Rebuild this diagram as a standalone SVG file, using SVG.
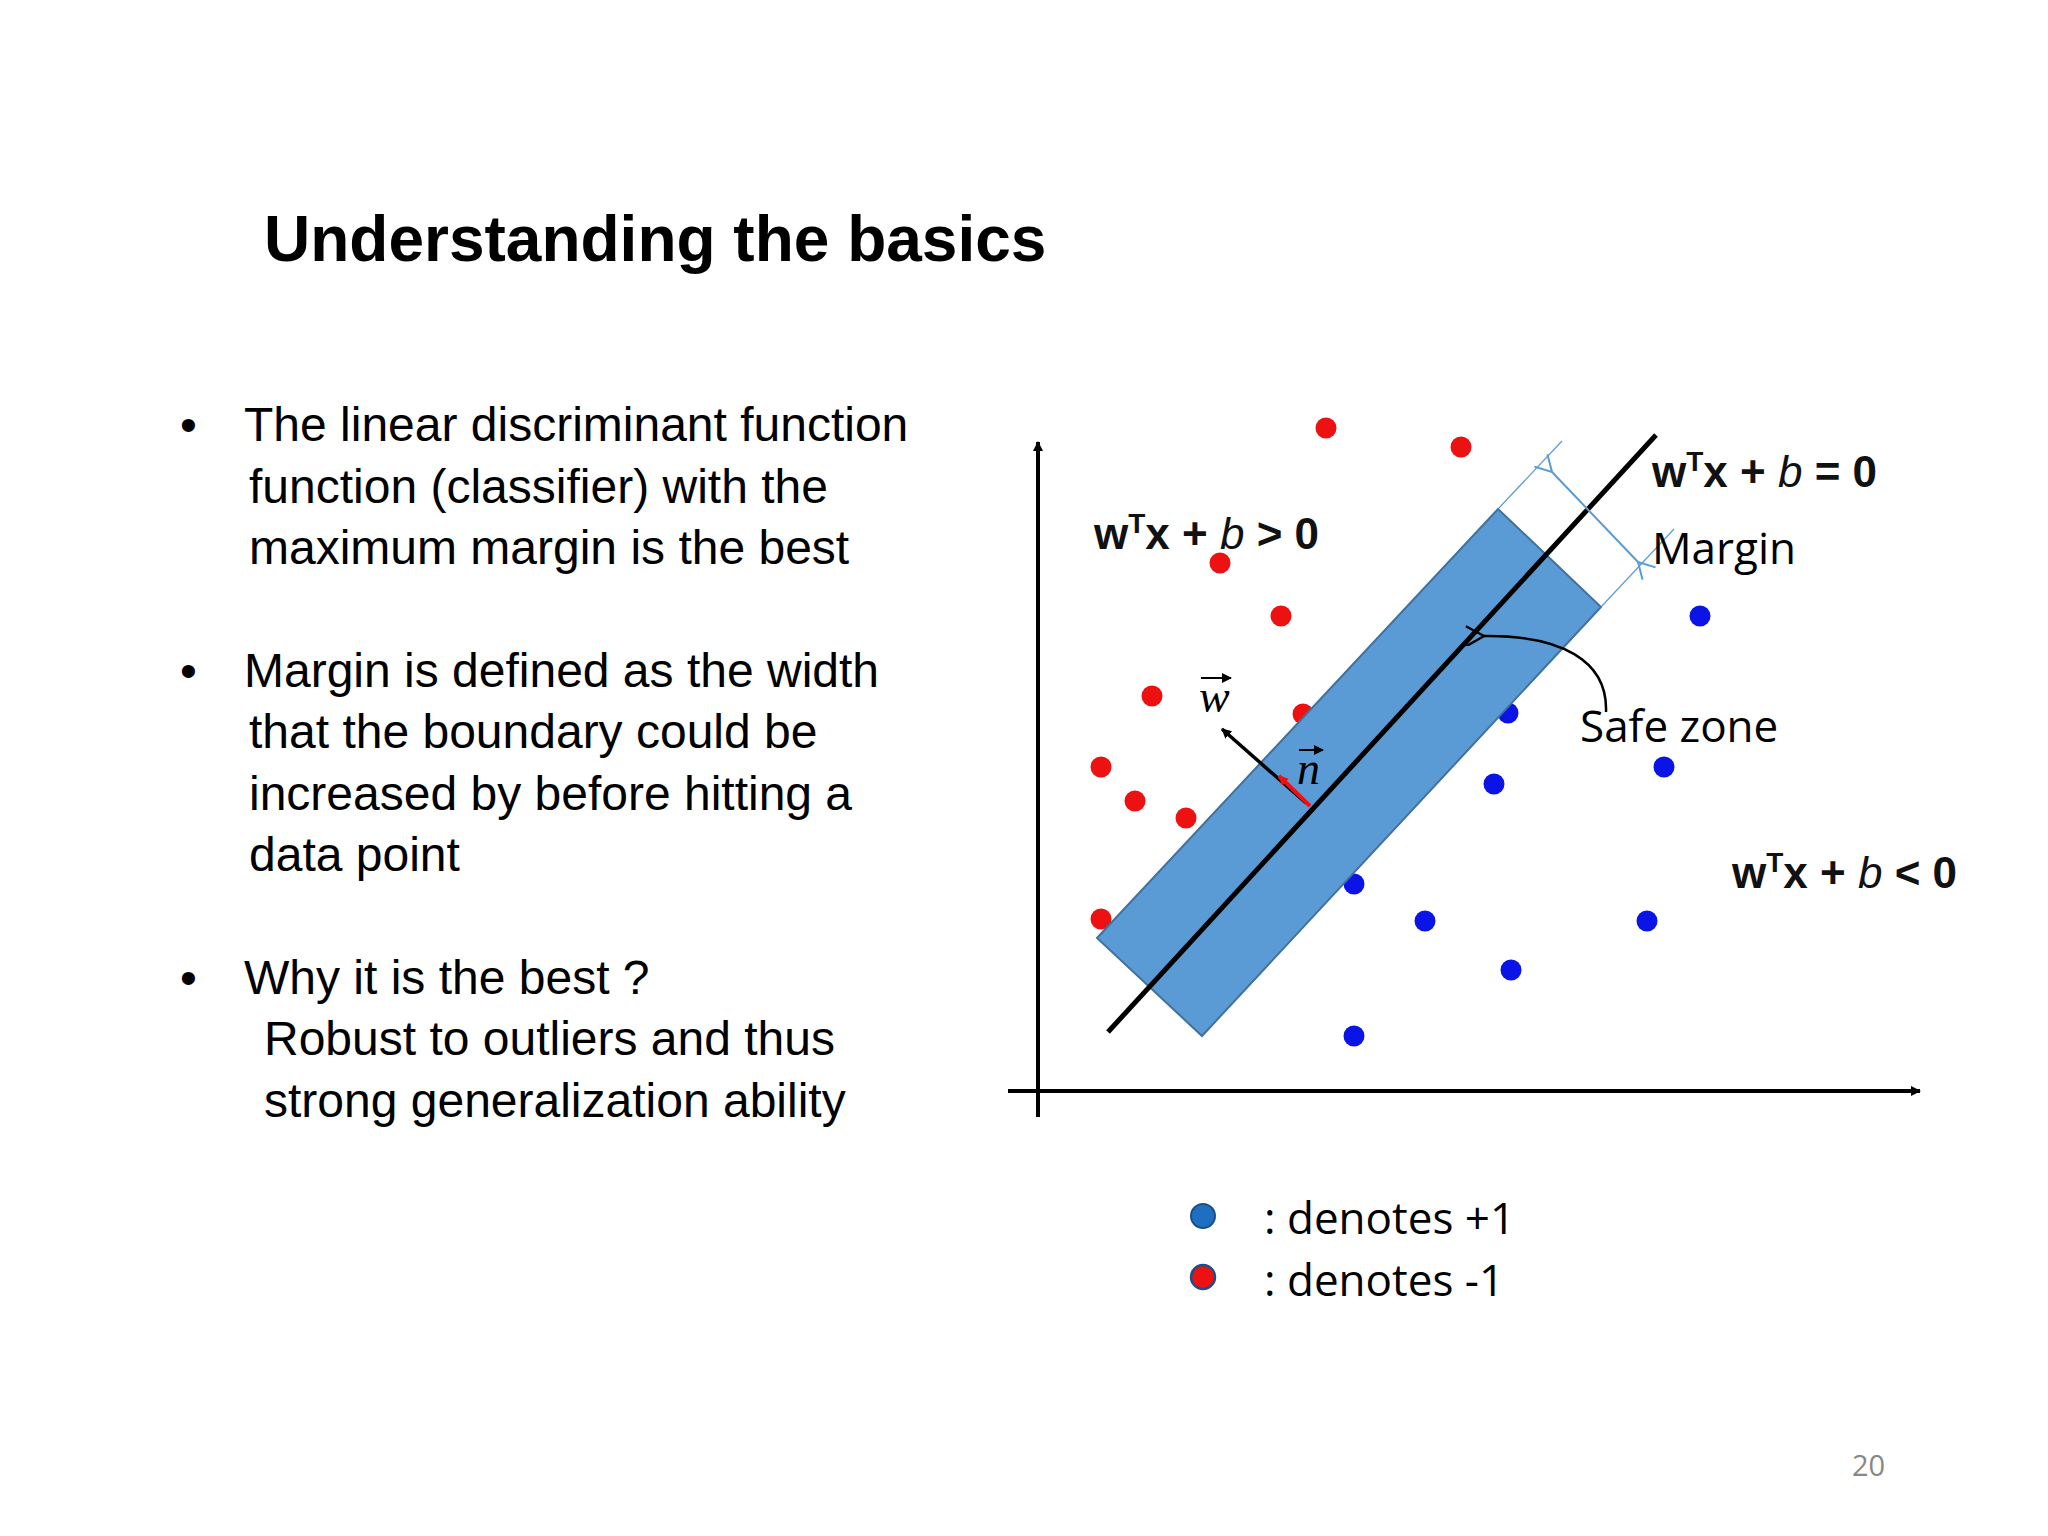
<svg xmlns="http://www.w3.org/2000/svg" width="2048" height="1536" viewBox="0 0 2048 1536">
<defs>
<style>
.t{font-family:"Liberation Sans",Arial,sans-serif;font-size:48px;fill:#000}
.eq{font-family:"Liberation Sans",Arial,sans-serif;font-size:44px;font-weight:bold;fill:#111}
.eq .i{font-style:italic;font-weight:normal}
.c{font-family:"Open Sans","Noto Sans",sans-serif;font-size:44px;fill:#000}
.v{font-family:"Liberation Serif",serif;font-style:italic;font-size:46px;fill:#000}
.r{fill:#ee1111}.b{fill:#0a14e6}
</style>
<marker id="ah" markerWidth="10" markerHeight="10" refX="9" refY="5" orient="auto" markerUnits="userSpaceOnUse"><path d="M0,0 L10,5 L0,10 z" fill="#000"/></marker>
<marker id="ahb" markerWidth="20" markerHeight="20" refX="9" refY="5" orient="auto" markerUnits="userSpaceOnUse"><path d="M0,0 L10,5 L0,10 z" fill="#000"/></marker>
<marker id="ahr" markerWidth="20" markerHeight="20" refX="9" refY="5" orient="auto" markerUnits="userSpaceOnUse"><path d="M0,0 L10,5 L0,10 z" fill="#ee1111"/></marker>
<marker id="op" markerWidth="24" markerHeight="24" refX="2" refY="10" orient="auto-start-reverse" markerUnits="userSpaceOnUse"><path d="M20,0 L2,10 L20,20" fill="none" stroke="#000" stroke-width="2.5"/></marker>
<marker id="opb" markerWidth="24" markerHeight="24" refX="2" refY="10" orient="auto-start-reverse" markerUnits="userSpaceOnUse"><path d="M18,1 L2,10 L18,19" fill="none" stroke="#5b9bd5" stroke-width="2"/></marker>
</defs>
<rect width="2048" height="1536" fill="#fff"/>
<text x="264" y="261" style="font-family:'Liberation Sans',Arial,sans-serif;font-size:64px;font-weight:bold">Understanding the basics</text>
<g id="bullets" class="t">
<text x="180" y="441">•</text><text x="244" y="441">The linear discriminant function</text>
<text x="249" y="503">function (classifier) with the</text>
<text x="249" y="564">maximum margin is the best</text>
<text x="180" y="687">•</text><text x="244" y="687">Margin is defined as the width</text>
<text x="249" y="748">that the boundary could be</text>
<text x="249" y="810">increased by before hitting a</text>
<text x="249" y="871">data point</text>
<text x="180" y="994">•</text><text x="244" y="994">Why it is the best ?</text>
<text x="264" y="1055">Robust to outliers and thus</text>
<text x="264" y="1117">strong generalization ability</text>
</g>
<g id="points">
<circle class="r" cx="1326" cy="428" r="10.5"/><circle class="r" cx="1461" cy="447" r="10.5"/><circle class="r" cx="1220" cy="563" r="10.5"/><circle class="r" cx="1281" cy="616" r="10.5"/><circle class="r" cx="1152" cy="696" r="10.5"/><circle class="r" cx="1303" cy="714" r="10.5"/><circle class="r" cx="1101" cy="767" r="10.5"/><circle class="r" cx="1135" cy="801" r="10.5"/><circle class="r" cx="1186" cy="818" r="10.5"/><circle class="r" cx="1101" cy="919" r="10.5"/>
<circle class="b" cx="1700" cy="616" r="10.5"/><circle class="b" cx="1508" cy="713" r="10.5"/><circle class="b" cx="1664" cy="767" r="10.5"/><circle class="b" cx="1494" cy="784" r="10.5"/><circle class="b" cx="1354" cy="884" r="10.5"/><circle class="b" cx="1425" cy="921" r="10.5"/><circle class="b" cx="1647" cy="921" r="10.5"/><circle class="b" cx="1511" cy="970" r="10.5"/><circle class="b" cx="1354" cy="1036" r="10.5"/>
</g>
<g id="safezone"><polygon points="1097,938 1498,509 1601,607 1202,1036" fill="#5b9bd5" stroke="#41719c" stroke-width="2"/></g>
<g id="connectors">
<line x1="1038" y1="1117" x2="1038" y2="442" stroke="#000" stroke-width="4" marker-end="url(#ah)"/>
<line x1="1008" y1="1091" x2="1920" y2="1091" stroke="#000" stroke-width="4" marker-end="url(#ah)"/>
<line x1="1108" y1="1032" x2="1656" y2="435" stroke="#000" stroke-width="5"/>
<line x1="1498" y1="509" x2="1562" y2="441" stroke="#5b9bd5" stroke-width="1.2"/>
<line x1="1601" y1="607" x2="1674" y2="529" stroke="#5b9bd5" stroke-width="1.2"/>
<line x1="1552" y1="472" x2="1638" y2="562" stroke="#5b9bd5" stroke-width="2" marker-start="url(#opb)" marker-end="url(#opb)"/>
<path d="M1606,712 C1608,660 1560,635 1484,636" fill="none" stroke="#000" stroke-width="2.5" marker-end="url(#op)"/>
<line x1="1306" y1="803" x2="1222" y2="729" stroke="#000" stroke-width="3.5" marker-end="url(#ahb)"/>
<line x1="1310" y1="806" x2="1279" y2="776" stroke="#ee1111" stroke-width="4" marker-end="url(#ahr)"/>
</g>
<g id="labels">
<text class="eq" x="1652" y="487">w<tspan dy="-16" font-size="28">T</tspan><tspan dy="16">x + </tspan><tspan class="i">b</tspan> = 0</text>
<text class="eq" x="1094" y="549">w<tspan dy="-16" font-size="28">T</tspan><tspan dy="16">x + </tspan><tspan class="i">b</tspan> &gt; 0</text>
<text class="eq" x="1732" y="888">w<tspan dy="-16" font-size="28">T</tspan><tspan dy="16">x + </tspan><tspan class="i">b</tspan> &lt; 0</text>
<text class="c" x="1652" y="564">Margin</text>
<text class="c" x="1580" y="742">Safe zone</text>
<text class="v" x="1199" y="712">w</text>
<line x1="1201" y1="678" x2="1231" y2="678" stroke="#000" stroke-width="2" marker-end="url(#ah)"/>
<text class="v" x="1297" y="784">n</text>
<line x1="1299" y1="750" x2="1323" y2="750" stroke="#000" stroke-width="2" marker-end="url(#ah)"/>
</g>
<g id="legend">
<circle cx="1203" cy="1216" r="12" fill="#1f6fc0" stroke="#1a4f8a" stroke-width="2"/>
<circle cx="1203" cy="1277" r="12" fill="#ee1111" stroke="#1a4f8a" stroke-width="2.5"/>
<text class="c" x="1264" y="1234" font-size="46">: denotes +1</text>
<text class="c" x="1264" y="1296" font-size="46">: denotes -1</text>
</g>
<text x="1852" y="1476" style="font-family:'Open Sans',sans-serif;font-size:29px;fill:#888">20</text>
</svg>
